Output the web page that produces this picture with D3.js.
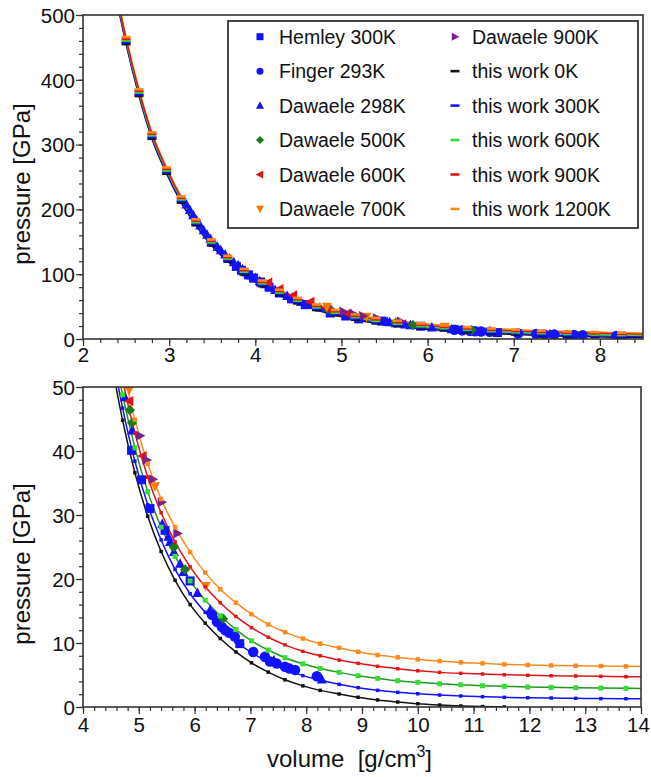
<!DOCTYPE html>
<html><head><meta charset="utf-8">
<script src="https://cdn.jsdelivr.net/npm/d3@7"></script>
<style>
body{margin:0;background:#fff;}
svg{display:block;font-family:"Liberation Sans",Arial,Helvetica,sans-serif;}
</style></head><body>
<svg id="chart" width="651" height="777"></svg>
<script>
// ---------- data ----------
const calcV = [2.40, 2.50, 2.65, 2.80, 2.97, 3.14, 3.31, 3.49, 3.68, 3.87, 4.08, 4.28, 4.49, 4.71, 4.93, 5.16, 5.40, 5.65, 5.92, 6.19, 6.46, 6.74, 7.02, 7.32, 7.62, 7.94, 8.25, 8.59, 8.93, 9.28, 9.64, 10.00, 10.39, 10.77, 11.16, 11.55, 11.97, 12.39, 12.83, 13.28, 13.73, 14.00];
const p0K    = [517, 455, 375, 309, 255, 210.5, 175.5, 144.5, 119.5, 99.5, 81.5, 67.5, 55.0, 44.8, 36.6, 29.8, 24.3, 19.8, 16.0, 13.1, 10.7, 8.6, 6.9, 5.45, 4.25, 3.3, 2.6, 2.03, 1.52, 1.1, 0.78, 0.51, 0.31, 0.16, 0.06, 0.0, null, null, null, null, null, null];
const p300K  = [520, 457.6, 377.5, 311.5, 257.4, 212.8, 177.7, 146.7, 121.6, 101.6, 83.5, 69.5, 56.9, 46.7, 38.4, 31.6, 26.1, 21.5, 17.7, 14.8, 12.4, 10.2, 8.5, 7.05, 5.85, 4.9, 4.21, 3.54, 3.01, 2.6, 2.29, 2.07, 1.87, 1.72, 1.61, 1.51, 1.45, 1.4, 1.36, 1.31, 1.29, 1.28];
const p600K  = [523, 460.5, 380.4, 314.2, 260.0, 215.4, 180.2, 149.1, 124.0, 103.9, 85.8, 71.7, 59.1, 48.8, 40.5, 33.65, 28.1, 23.55, 19.7, 16.7, 14.25, 12.1, 10.35, 8.9, 7.7, 6.75, 6.03, 5.41, 4.88, 4.48, 4.1, 3.85, 3.63, 3.48, 3.32, 3.23, 3.12, 3.07, 3.01, 2.96, 2.92, 2.9];
const p900K  = [526, 463.2, 383.0, 316.8, 262.5, 217.8, 182.6, 151.5, 126.4, 106.2, 88.1, 74.0, 61.4, 51.1, 42.8, 35.9, 30.35, 25.8, 21.9, 18.8, 16.3, 14.15, 12.4, 10.9, 9.7, 8.7, 8.0, 7.33, 6.82, 6.35, 5.98, 5.66, 5.41, 5.26, 5.15, 5.04, 4.95, 4.88, 4.84, 4.79, 4.73, 4.71];
const p1200K = [529, 466, 385.5, 319, 264.8, 220, 184.8, 153.7, 128.5, 108.3, 90.2, 76.0, 63.5, 53.2, 44.9, 38.0, 32.5, 28.1, 24.2, 21.0, 18.4, 16.3, 14.5, 12.9, 11.7, 10.7, 9.9, 9.25, 8.63, 8.11, 7.75, 7.44, 7.18, 6.97, 6.82, 6.66, 6.55, 6.5, 6.44, 6.4, 6.35, 6.33];

const hemley300 = [[3.78,112],[3.84,106],[3.92,99],[3.98,94],[4.06,88],[4.16,80],[4.28,71],[4.42,62],[4.58,53],[4.87,40.1],[5.05,35.5],[5.20,31.0],[5.47,27.6],[5.92,19.7],[6.81,9.9]];
const finger293 = [[6.31,14.4],[6.40,13.3],[6.49,12.5],[6.55,12.0],[6.62,11.6],[6.72,11.0],[7.05,8.6],[7.26,7.85],[7.35,7.1],[7.47,6.8],[7.62,6.3],[7.70,6.0],[7.80,5.8],[8.19,4.8]];
const dawaele298 = [[3.20,207.7],[3.24,199],[3.28,190.8],[3.32,182.8],[3.36,175.2],[3.40,167.9],[3.44,160.9],[3.48,154.2],[3.52,148.1],[3.56,142.3],[3.60,136.8],[3.65,130.3],[3.70,124.1],[3.75,118.3],[3.80,114],[3.85,107.6],[3.90,102.7],[3.95,98],[4.00,93.6],[4.05,89.3],[4.11,84.5],[4.17,80],[4.23,75.6],[4.30,70.8],[4.37,66.3],[4.45,61.5],[4.53,57.1],[4.62,52.6],[4.75,48.4],[4.88,43.2],[5.42,28.6],[5.53,26.6],[5.56,25.8],[5.63,24.2],[5.74,22.4],[5.80,21.1],[6.05,17.8],[6.28,15.2],[6.35,14.4],[7.42,7.3],[8.28,4.3]];
const dawaele500 = [[4.84,46.4],[4.88,44.4],[5.63,25.0],[5.83,21.5],[6.51,13.8]];
const dawaele600 = [[4.15,87],[4.28,77],[4.44,67.5],[4.64,57.3],[4.83,47.8],[5.07,39.2]];
const dawaele700 = [[4.83,49.6],[5.29,34.5],[6.20,18.9]];
const dawaele900 = [[5.02,42.4],[5.14,38.6],[5.25,35.6],[5.41,32.0],[5.69,27.1]];

const xTicksTop = [2,3,4,5,6,7,8];
const yTicksTop = [0,100,200,300,400,500];
const xTicksBottom = [4,5,6,7,8,9,10,11,12,13,14];
const yTicksBottom = [0,10,20,30,40,50];
const legendLeft = ["Hemley 300K","Finger 293K","Dawaele 298K","Dawaele 500K","Dawaele 600K","Dawaele 700K"];
const legendRight = ["Dawaele 900K","this work 0K","this work 300K","this work 600K","this work 900K","this work 1200K"];

// ---------- styles ----------
const C = {blue:"#1212ff", black:"#111111", green:"#35dc35", greenLine:"#1f9a1f", dgreen:"#1c7a1c", red:"#e01414", orange:"#ff8a1c", orangeTri:"#ff7a00", purple:"#7b1f8c"};

const expSeries = [
  {data:hemley300, shape:"square", color:C.blue, size:9},
  {data:finger293, shape:"circle", color:C.blue, size:10.5},
  {data:dawaele298, shape:"triUp", color:C.blue, size:10},
  {data:dawaele500, shape:"diamond", color:C.dgreen, size:9},
  {data:dawaele600, shape:"triLeft", color:C.red, size:10},
  {data:dawaele700, shape:"triDown", color:C.orangeTri, size:10},
  {data:dawaele900, shape:"triRight", color:C.purple, size:10}
];
const calcSeries = [
  {p:p0K, color:C.black, line:C.black, bsize:3.5},
  {p:p300K, color:C.blue, line:C.blue, bsize:3.5},
  {p:p600K, color:C.green, line:C.greenLine, bsize:5},
  {p:p900K, color:C.red, line:C.red, bsize:3.5},
  {p:p1200K, color:C.orange, line:C.orange, bsize:4.5}
];

function markerPath(shape, s) {
  const h = s/2;
  switch(shape) {
    case "square": return `M${-h},${-h}h${s}v${s}h${-s}Z`;
    case "circle": return `M${h},0A${h},${h} 0 1,1 ${-h},0A${h},${h} 0 1,1 ${h},0Z`;
    case "triUp": return `M0,${-s*0.55}L${h},${s*0.4}L${-h},${s*0.4}Z`;
    case "triDown": return `M0,${s*0.55}L${h},${-s*0.4}L${-h},${-s*0.4}Z`;
    case "triLeft": return `M${-s*0.55},0L${s*0.4},${-h}L${s*0.4},${h}Z`;
    case "triRight": return `M${s*0.55},0L${-s*0.4},${-h}L${-s*0.4},${h}Z`;
    case "diamond": { const d = h*1.15; return `M0,${-d}L${d},0L0,${d}L${-d},0Z`; }
    case "dash": return `M${-h},-1.3h${s}v2.6h${-s}Z`;
  }
}

const svg = d3.select("#chart");
svg.append("rect").attr("width",651).attr("height",777).attr("fill","#fff");

function drawPanel(o) {
  const x = d3.scaleLinear().domain(o.xDomain).range([o.left, o.right]);
  const y = d3.scaleLinear().domain(o.yDomain).range([o.bottom, o.top]);
  const g = svg.append("g");
  const clipId = "clip-" + o.id;
  svg.append("clipPath").attr("id", clipId).append("rect")
    .attr("x", o.left).attr("y", o.top).attr("width", o.right - o.left).attr("height", o.bottom - o.top);

  const styleAxis = sel => { sel.select(".domain").remove(); sel.selectAll(".tick line").attr("stroke","#333").attr("stroke-width",1.2); };
  g.append("g").attr("transform",`translate(0,${o.bottom})`)
    .call(d3.axisBottom(x).tickValues(d3.range(o.xDomain[0], o.xDomain[1]+1e-6, o.xMinor)).tickSize(4).tickFormat(""))
    .call(styleAxis);
  g.append("g").attr("transform",`translate(${o.left},0)`)
    .call(d3.axisLeft(y).tickValues(d3.range(o.yDomain[0], o.yDomain[1]+1e-6, o.yMinor)).tickSize(4).tickFormat(""))
    .call(styleAxis);
  const xa = g.append("g").attr("transform",`translate(0,${o.bottom})`)
    .call(d3.axisBottom(x).tickValues(o.xTicks).tickSize(7).tickFormat(d3.format("d")))
    .call(styleAxis);
  xa.selectAll("text").attr("y", o.xLabelOffset).attr("dy", 0).attr("font-size", 20.5).attr("fill","#111")
    .attr("font-family","Liberation Sans, Arial, sans-serif")
    .attr("dx", d => (x(d) + 12 > 651 ? -(x(d) + 12 - 650) : 0));
  const ya = g.append("g").attr("transform",`translate(${o.left},0)`)
    .call(d3.axisLeft(y).tickValues(o.yTicks).tickSize(7).tickFormat(d3.format("d")))
    .call(styleAxis);
  ya.selectAll("text").attr("x", -8).attr("dy", "0.36em").attr("font-size", 20.5).attr("fill","#111").attr("font-family","Liberation Sans, Arial, sans-serif");

  const plot = g.append("g").attr("clip-path", `url(#${clipId})`);
  const line = d3.line().defined(d => d[1] != null).x(d => x(d[0])).y(d => y(d[1])).curve(d3.curveMonotoneX);
  o.lineOrder.forEach(i => {
    const s = calcSeries[i];
    const pts = calcV.map((v, k) => [v, s.p[k]]);
    plot.append("path").attr("d", line(pts)).attr("fill","none")
      .attr("stroke", o.id === "top" ? s.color : s.line).attr("stroke-width", 1.5);
  });
  expSeries.forEach(es => {
    plot.append("g").selectAll("path").data(es.data).join("path")
      .attr("d", markerPath(es.shape, es.size))
      .attr("transform", d => `translate(${x(d[0])},${y(d[1])})`)
      .attr("fill", es.color);
  });
  calcSeries.forEach(s => {
    const pts = calcV.map((v, k) => [v, s.p[k]]).filter(d => d[1] != null && d[0] > 2.45 && d[0] < 13.9);
    plot.append("g").selectAll("path").data(pts).join("path")
      .attr("d", o.id === "top" ? markerPath("dash", 9) : markerPath("square", s.bsize))
      .attr("transform", d => `translate(${x(d[0])},${y(d[1])})`)
      .attr("fill", s.color);
  });
  g.append("rect").attr("x", o.left).attr("y", o.top).attr("width", o.right - o.left).attr("height", o.bottom - o.top)
    .attr("fill","none").attr("stroke","#333").attr("stroke-width",1.6);

  g.append("text").attr("transform", `translate(30,${o.yLabelY}) rotate(-90)`)
    .attr("text-anchor","middle").attr("font-size",24).attr("fill","#111").text("pressure [GPa]");
  return {x, y, g};
}

drawPanel({id:"top", xDomain:[2,8.5], yDomain:[0,500], left:83, right:643, top:15, bottom:339,
  xTicks:xTicksTop, yTicks:yTicksTop, xMinor:0.2, yMinor:20, xLabelOffset:23, yLabelY:184, lineOrder:[0,1,2,4,3]});
drawPanel({id:"bottom", xDomain:[4,14], yDomain:[0,50], left:83, right:641, top:387, bottom:707,
  xTicks:xTicksBottom, yTicks:yTicksBottom, xMinor:0.2, yMinor:2, xLabelOffset:25, yLabelY:564, lineOrder:[0,1,2,3,4]});

// x label
const xl = svg.append("text").attr("x", 267).attr("y", 767).attr("font-size", 24).attr("fill","#111");
xl.append("tspan").text("volume\u00a0\u00a0[g/cm");
xl.append("tspan").attr("dy", -10).attr("font-size", 16).text("3");
xl.append("tspan").attr("dy", 10).text("]");

// legend
const lg = svg.append("g");
lg.append("rect").attr("x",228).attr("y",21).attr("width",410).attr("height",207)
  .attr("fill","#fff").attr("stroke","#333").attr("stroke-width",1.8);
const rowY = d3.range(6).map(i => 36.7 + i*34.45);
const leftShapes = expSeries.slice(0,6);
legendLeft.forEach((t,i) => {
  const es = leftShapes[i];
  lg.append("path").attr("d", markerPath(es.shape, (es.shape==="square"||es.shape==="circle"||es.shape==="diamond") ? 7 : 8))
    .attr("transform", `translate(260,${rowY[i]})`).attr("fill", es.color);
  lg.append("text").attr("x",279).attr("y",rowY[i]+7).attr("font-size",19.5).attr("fill","#111").text(t);
});
legendRight.forEach((t,i) => {
  if (i === 0) {
    lg.append("path").attr("d", markerPath("triRight", 8)).attr("transform", `translate(455,${rowY[i]})`).attr("fill", C.purple);
  } else {
    lg.append("path").attr("d", markerPath("dash", 9)).attr("transform", `translate(455,${rowY[i]})`).attr("fill", calcSeries[i-1].color);
  }
  lg.append("text").attr("x",472).attr("y",rowY[i]+7).attr("font-size",19.5).attr("fill","#111").text(t);
});
</script>
</body></html>
